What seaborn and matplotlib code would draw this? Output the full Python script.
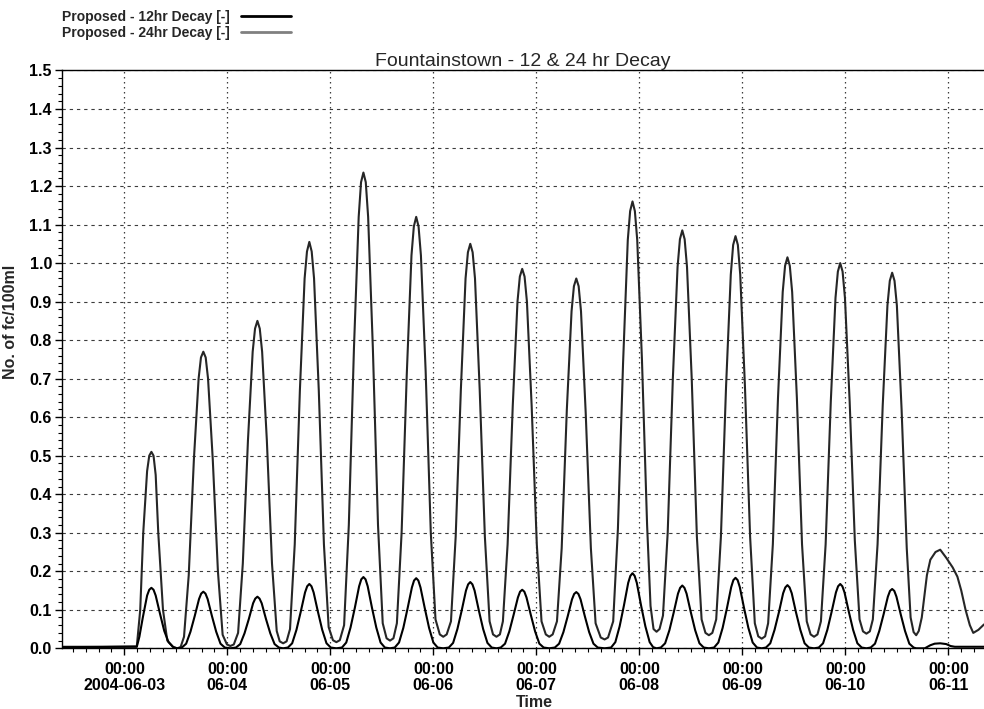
import pandas as pd
import numpy as np
import matplotlib
matplotlib.use("Agg")
import matplotlib.pyplot as plt
import matplotlib.dates as mdates
import seaborn as sns

# hours after 2004-06-03 00:00 (one tide per line)
hours_12 = [-14.6, 2.9,
            3.5, 4.3, 5.3, 5.8, 6.3, 6.8, 7.3, 8.3, 9.3, 10.3, 11.3, 12.3,
            13.4, 14.4, 15.4, 16.4, 17.4, 17.9, 18.4, 18.9, 19.4, 20.4, 21.4, 22.4, 23.4, 24.7,
            26.0, 27.0, 28.0, 29.0, 30.0, 30.5, 31.0, 31.5, 32.0, 33.0, 34.0, 35.0, 36.0, 37.0,
            38.1, 39.1, 40.1, 41.1, 42.1, 42.6, 43.1, 43.6, 44.1, 45.1, 46.1, 47.1, 48.1, 49.4,
            50.7, 51.7, 52.7, 53.7, 54.7, 55.2, 55.7, 56.2, 56.7, 57.7, 58.7, 59.7, 60.7, 61.9,
            63.0, 64.0, 65.0, 66.0, 67.0, 67.5, 68.0, 68.5, 69.0, 70.0, 71.0, 72.0, 73.0, 74.3,
            75.6, 76.6, 77.6, 78.6, 79.6, 80.1, 80.6, 81.1, 81.6, 82.6, 83.6, 84.6, 85.6, 86.7,
            87.7, 88.7, 89.7, 90.7, 91.7, 92.2, 92.7, 93.2, 93.7, 94.7, 95.7, 96.7, 97.7, 99.0,
            100.3, 101.3, 102.3, 103.3, 104.3, 104.8, 105.3, 105.8, 106.3, 107.3, 108.3, 109.3, 110.3, 111.9,
            113.4, 114.4, 115.4, 116.4, 117.4, 117.9, 118.4, 118.9, 119.4, 120.4, 121.4, 122.4, 123.2, 124.0,
            125.0, 126.0, 127.0, 128.0, 129.0, 129.5, 130.0, 130.5, 131.0, 132.0, 133.0, 134.0, 135.0, 136.2,
            137.4, 138.4, 139.4, 140.4, 141.4, 141.9, 142.4, 142.9, 143.4, 144.4, 145.4, 146.4, 147.4, 148.5,
            149.5, 150.5, 151.5, 152.5, 153.5, 154.0, 154.5, 155.0, 155.5, 156.5, 157.5, 158.5, 159.5, 160.7,
            161.8, 162.8, 163.8, 164.8, 165.8, 166.3, 166.8, 167.3, 167.8, 168.8, 169.8, 170.8, 171.8, 172.9,
            173.9, 174.9, 175.9, 176.9, 177.9, 178.4, 178.9, 179.4, 179.9, 180.9, 181.9, 182.9, 183.9, 184.5,
            186.5, 187.8, 188.8, 190.1, 191.5, 192.5, 193.5, 200.3]
fc_12 = [0.003, 0.004,
         0.03, 0.08, 0.137, 0.152, 0.157, 0.152, 0.137, 0.09, 0.045, 0.016, 0.004, 0.0,
         0.002, 0.012, 0.043, 0.084, 0.128, 0.142, 0.147, 0.142, 0.128, 0.084, 0.043, 0.012, 0.002, 0.0,
         0.002, 0.011, 0.039, 0.076, 0.117, 0.129, 0.134, 0.129, 0.117, 0.076, 0.039, 0.011, 0.002, 0.0,
         0.002, 0.013, 0.048, 0.095, 0.145, 0.161, 0.167, 0.161, 0.145, 0.095, 0.048, 0.013, 0.002, 0.0,
         0.002, 0.015, 0.054, 0.105, 0.161, 0.179, 0.185, 0.179, 0.161, 0.105, 0.054, 0.015, 0.002, 0.0,
         0.002, 0.015, 0.053, 0.104, 0.158, 0.176, 0.182, 0.176, 0.158, 0.104, 0.053, 0.015, 0.002, 0.0,
         0.002, 0.014, 0.050, 0.098, 0.150, 0.166, 0.172, 0.166, 0.150, 0.098, 0.050, 0.014, 0.002, 0.0,
         0.002, 0.012, 0.044, 0.087, 0.132, 0.147, 0.152, 0.147, 0.132, 0.087, 0.044, 0.012, 0.002, 0.0,
         0.002, 0.012, 0.042, 0.083, 0.127, 0.141, 0.146, 0.141, 0.127, 0.083, 0.042, 0.012, 0.002, 0.0,
         0.002, 0.016, 0.057, 0.111, 0.170, 0.188, 0.195, 0.188, 0.170, 0.111, 0.057, 0.016, 0.003, 0.0,
         0.002, 0.013, 0.047, 0.093, 0.142, 0.157, 0.163, 0.157, 0.142, 0.093, 0.047, 0.013, 0.002, 0.0,
         0.002, 0.015, 0.053, 0.104, 0.159, 0.177, 0.183, 0.177, 0.159, 0.104, 0.053, 0.015, 0.002, 0.0,
         0.002, 0.013, 0.048, 0.093, 0.143, 0.158, 0.164, 0.158, 0.143, 0.093, 0.048, 0.013, 0.002, 0.0,
         0.002, 0.013, 0.048, 0.095, 0.145, 0.161, 0.167, 0.161, 0.145, 0.095, 0.048, 0.013, 0.002, 0.0,
         0.002, 0.012, 0.045, 0.088, 0.134, 0.149, 0.154, 0.149, 0.134, 0.088, 0.045, 0.012, 0.002, 0.0,
         0.0, 0.008, 0.012, 0.013, 0.011, 0.006, 0.004, 0.004]

hours_24 = [-14.6, -5.0, 2.9,
            3.7, 4.4, 5.3, 5.8, 6.3, 6.8, 7.3, 7.9, 9.0, 10.0, 11.5, 12.3, 13.1,
            13.9, 15.0, 16.2, 17.3, 17.85, 18.4, 18.95, 19.5, 20.6, 21.8, 22.9, 23.9, 24.7, 25.5,
            26.5, 27.6, 28.8, 29.9, 30.45, 31.0, 31.55, 32.1, 33.2, 34.4, 35.5, 36.2, 37.0, 37.8,
            38.6, 39.7, 40.9, 42.0, 42.55, 43.1, 43.65, 44.2, 45.3, 46.5, 47.6, 48.6, 49.4, 50.2,
            51.2, 52.3, 53.5, 54.6, 55.15, 55.7, 56.25, 56.8, 57.9, 59.1, 60.2, 61.1, 61.9, 62.7,
            63.5, 64.6, 65.8, 66.9, 67.45, 68.0, 68.55, 69.1, 70.2, 71.4, 72.5, 73.5, 74.3, 75.1,
            76.1, 77.2, 78.4, 79.5, 80.05, 80.6, 81.15, 81.7, 82.8, 84.0, 85.1, 85.9, 86.7, 87.5,
            88.2, 89.3, 90.5, 91.6, 92.15, 92.7, 93.25, 93.8, 94.9, 96.1, 97.2, 98.2, 99.0, 99.8,
            100.8, 101.9, 103.1, 104.2, 104.75, 105.3, 105.85, 106.4, 107.5, 108.7, 109.8, 111.0, 111.9, 112.7,
            113.9, 115.0, 116.2, 117.3, 117.85, 118.4, 118.95, 119.5, 120.6, 121.8, 122.6, 123.3, 124.0, 124.7,
            125.5, 126.6, 127.8, 128.9, 129.45, 130.0, 130.55, 131.1, 132.2, 133.4, 134.5, 135.4, 136.2, 137.0,
            137.9, 139.0, 140.2, 141.3, 141.85, 142.4, 142.95, 143.5, 144.6, 145.8, 146.9, 147.7, 148.5, 149.3,
            150.0, 151.1, 152.3, 153.4, 153.95, 154.5, 155.05, 155.6, 156.7, 157.9, 159.0, 159.9, 160.7, 161.5,
            162.3, 163.4, 164.6, 165.7, 166.25, 166.8, 167.35, 167.9, 169.0, 170.2, 171.3, 172.1, 172.9, 173.7,
            174.4, 175.5, 176.7, 177.8, 178.35, 178.9, 179.45, 180.0, 181.1, 182.3, 183.2, 183.9, 184.5, 185.1,
            185.8, 187.0, 187.8, 189.0, 190.1, 191.5, 193.0, 194.1, 195.0, 196.0, 197.0, 197.8, 199.0, 200.3]
fc_24 = [0.004, 0.004, 0.005,
         0.10, 0.30, 0.46, 0.50, 0.51, 0.50, 0.45, 0.30, 0.10, 0.02, 0.002, 0.0, 0.003,
         0.03, 0.19, 0.49, 0.70, 0.755, 0.77, 0.755, 0.70, 0.49, 0.20, 0.035, 0.01, 0.006, 0.01,
         0.04, 0.22, 0.54, 0.77, 0.83, 0.85, 0.83, 0.77, 0.54, 0.22, 0.045, 0.018, 0.013, 0.018,
         0.05, 0.27, 0.67, 0.96, 1.03, 1.055, 1.03, 0.96, 0.67, 0.27, 0.055, 0.021, 0.016, 0.021,
         0.06, 0.32, 0.78, 1.12, 1.21, 1.235, 1.21, 1.12, 0.78, 0.32, 0.065, 0.026, 0.02, 0.026,
         0.065, 0.30, 0.71, 1.02, 1.095, 1.12, 1.095, 1.02, 0.72, 0.30, 0.075, 0.036, 0.03, 0.036,
         0.07, 0.29, 0.67, 0.96, 1.028, 1.05, 1.028, 0.96, 0.67, 0.29, 0.07, 0.036, 0.03, 0.036,
         0.07, 0.27, 0.63, 0.90, 0.965, 0.985, 0.965, 0.90, 0.63, 0.27, 0.07, 0.036, 0.03, 0.036,
         0.07, 0.26, 0.62, 0.875, 0.94, 0.96, 0.94, 0.875, 0.61, 0.26, 0.065, 0.028, 0.023, 0.028,
         0.07, 0.31, 0.74, 1.06, 1.135, 1.16, 1.135, 1.06, 0.75, 0.32, 0.11, 0.05, 0.043, 0.05,
         0.085, 0.30, 0.70, 0.99, 1.062, 1.085, 1.062, 0.99, 0.70, 0.29, 0.075, 0.04, 0.034, 0.04,
         0.075, 0.29, 0.68, 0.97, 1.047, 1.07, 1.047, 0.97, 0.68, 0.29, 0.065, 0.031, 0.025, 0.031,
         0.065, 0.27, 0.65, 0.925, 0.993, 1.015, 0.993, 0.925, 0.65, 0.27, 0.07, 0.036, 0.03, 0.036,
         0.07, 0.27, 0.64, 0.91, 0.978, 1.0, 0.978, 0.91, 0.64, 0.28, 0.075, 0.044, 0.038, 0.044,
         0.075, 0.27, 0.63, 0.89, 0.954, 0.975, 0.954, 0.89, 0.62, 0.26, 0.08, 0.042, 0.034, 0.045,
         0.08, 0.19, 0.23, 0.25, 0.256, 0.235, 0.21, 0.186, 0.15, 0.10, 0.06, 0.04, 0.048, 0.062]

day_labels = ['00:00\n2004-06-03', '00:00\n06-04', '00:00\n06-05', '00:00\n06-06',
              '00:00\n06-07', '00:00\n06-08', '00:00\n06-09', '00:00\n06-10',
              '00:00\n06-11']

start = pd.Timestamp('2004-06-03 00:00')
df12 = pd.DataFrame({'Time': start + pd.to_timedelta(hours_12, unit='h'), 'fc': fc_12})
df24 = pd.DataFrame({'Time': start + pd.to_timedelta(hours_24, unit='h'), 'fc': fc_24})

sns.set_theme(style='ticks')
narrow = ['Liberation Sans Narrow', 'Liberation Sans', 'DejaVu Sans']
plt.rcParams['font.family'] = narrow

fig = plt.figure(figsize=(9.84, 7.09), dpi=100)
ax = fig.add_axes([0.0627, 0.0856, 0.9373, 0.815])

sns.lineplot(data=df24, x='Time', y='fc', ax=ax, color='#262626', lw=1.5,
             estimator=None, label='Proposed - 24hr Decay [-]', zorder=3)
sns.lineplot(data=df12, x='Time', y='fc', ax=ax, color='black', lw=1.5,
             estimator=None, label='Proposed - 12hr Decay [-]', zorder=4)

ax.set_xlim(start + pd.Timedelta(hours=-14.6), start + pd.Timedelta(hours=200.3))
ax.set_ylim(0, 1.5)

days = [start + pd.Timedelta(days=i) for i in range(len(day_labels))]
ax.set_xticks(days)
ax.set_xticklabels(day_labels, fontsize=11.5, fontweight='bold', linespacing=1.1)
ax.xaxis.set_minor_locator(mdates.HourLocator(byhour=range(0, 24, 3)))
ax.set_yticks(np.arange(0, 1.51, 0.1))
ax.set_yticklabels([f'{v:.1f}' for v in np.arange(0, 1.51, 0.1)],
                   fontsize=11.5, fontweight='bold')
ax.yaxis.set_minor_locator(matplotlib.ticker.MultipleLocator(0.02))
ax.tick_params(axis='both', which='major', length=5, width=1, direction='out', colors='black')
ax.tick_params(axis='both', which='minor', length=3, width=0.8, direction='out', colors='black')
ax.tick_params(axis='x', which='major', pad=5)
ax.tick_params(axis='y', which='major', pad=2)

ax.grid(axis='y', which='major', color='#3c3c3c', linestyle=(0, (3, 3.5)), lw=0.8)
ax.grid(axis='x', which='major', color='#3c3c3c', linestyle=(0, (1.2, 2.8)), lw=0.9)

for s in ['left', 'bottom', 'top']:
    ax.spines[s].set_color('black')
    ax.spines[s].set_linewidth(1.0)
ax.spines['right'].set_visible(False)

ax.set_ylabel('No. of fc/100ml', fontsize=11.5, fontweight='bold')
ax.yaxis.set_label_coords(-0.047, 0.565)
ax.set_xlabel('Time', fontsize=11.5, fontweight='bold')
ax.xaxis.set_label_coords(0.513, -0.08)

ax.set_title('Fountainstown - 12 & 24 hr Decay', fontsize=14,
             family=['Liberation Sans', 'DejaVu Sans'], pad=3)

ax.get_legend().remove()
h, l = ax.get_legend_handles_labels()
order = [1, 0]
leg = fig.legend([h[i] for i in order], [l[i] for i in order],
                 loc='upper left', bbox_to_anchor=(0.053, 1.0), frameon=False,
                 markerfirst=False, handlelength=3.6, handletextpad=0.8,
                 labelspacing=0.15, borderaxespad=0.3,
                 prop={'family': narrow, 'weight': 'bold', 'size': 10})
leg.legend_handles[1].set_color('#808080')
leg.legend_handles[1].set_linewidth(2)
leg.legend_handles[0].set_linewidth(2)

fig.savefig('out.png', dpi=100)
